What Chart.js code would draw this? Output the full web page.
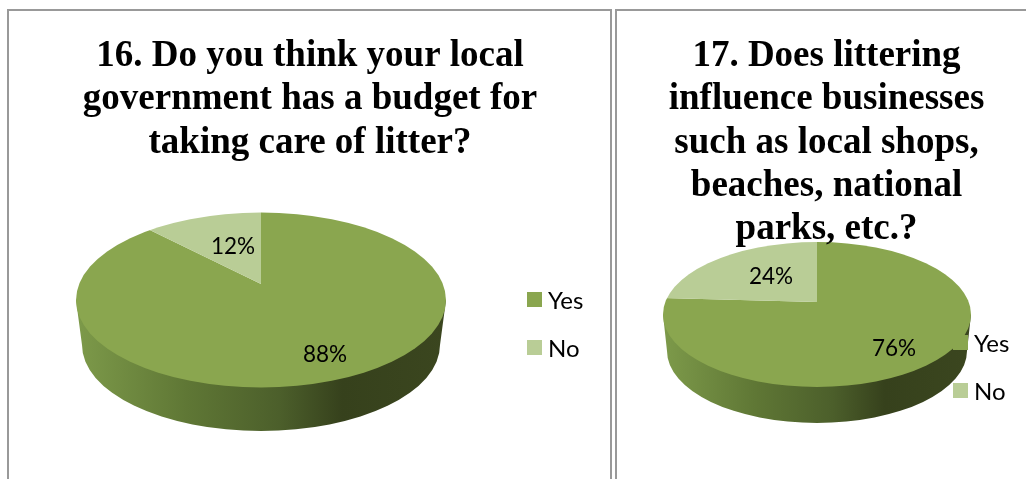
<!DOCTYPE html>
<html>
<head>
<meta charset="utf-8">
<title>Litter survey</title>
<script src="https://cdn.jsdelivr.net/npm/chart.js@4/dist/chart.umd.min.js"></script>
<style>
    html, body { margin: 0; padding: 0; background: #fff; overflow: hidden; }
    .cell { position: absolute; box-sizing: border-box; border: 2px solid #999; border-bottom: 0; }
    #cell16 { left: 7px; top: 9px; width: 605px; height: 470px; }
    #cell17 { left: 615px; top: 9px; width: 411px; height: 470px; border-right: 0; }
    canvas { position: absolute; top: 0; }
    #chart16 { left: 0; }
    #chart17 { left: 613px; }
</style>
</head>
<body>
<div class="cell" id="cell16"></div>
<div class="cell" id="cell17"></div>
<canvas id="chart16" width="620" height="479"></canvas>
<canvas id="chart17" width="427" height="479"></canvas>
<script>
    "use strict";

    var answers = ["Yes", "No"];
    var budgetValues = [88, 12];
    var businessValues = [76, 24];
    var budgetTitle = ["16. Do you think your local", "government has a budget for", "taking care of litter?"];
    var businessTitle = ["17. Does littering", "influence businesses", "such as local shops,", "beaches, national", "parks, etc.?"];

    var sliceColors = ["#8aa64f", "#b9cd96"];
    var valueFont = "22.5px Lato";
    var legendFont = "24px Lato";

    // Tilted pie: the library draws the slices, squashed around the apex and
    // cut to the rim ellipse. The side wall goes underneath.
    var tiltedPie = {
        id: "tiltedPie",
        beforeDatasetsDraw: function (chart, args, opts) {
            var ctx = chart.ctx;
            var arc = chart.getDatasetMeta(0).data[0];
            var k = 500 / arc.outerRadius;

            // Side wall
            var wall = ctx.createLinearGradient(opts.cx - opts.rx, 0, opts.cx + opts.rx, 0);
            wall.addColorStop(0, "#7d9a4a");
            wall.addColorStop(0.3, "#5f7735");
            wall.addColorStop(0.55, "#4c5f2b");
            wall.addColorStop(0.72, "#36411c");
            wall.addColorStop(1, "#3b461f");
            ctx.save();
            ctx.beginPath();
            ctx.moveTo(opts.cx - opts.rx, opts.cy);
            ctx.lineTo(opts.cx - opts.wallRx, opts.wallCy);
            ctx.ellipse(opts.cx, opts.wallCy, opts.wallRx, opts.wallRy, 0, Math.PI, 0, true);
            ctx.lineTo(opts.cx + opts.rx, opts.cy);
            ctx.closePath();
            ctx.fillStyle = wall;
            ctx.fill();
            ctx.restore();

            // Top face
            ctx.save();
            ctx.beginPath();
            ctx.ellipse(opts.cx, opts.cy, opts.rx, opts.ry, 0, 0, Math.PI * 2);
            ctx.clip();
            ctx.translate(opts.apexX, opts.apexY);
            ctx.scale(k, k * opts.squash);
            ctx.translate(-arc.x, -arc.y);
        },
        afterDatasetsDraw: function (chart, args, opts) {
            var ctx = chart.ctx;
            ctx.restore();

            // The title runs in front of the pie where they overlap
            ctx.save();
            ctx.beginPath();
            ctx.ellipse(opts.cx, opts.cy, opts.rx, opts.ry, 0, 0, Math.PI * 2);
            ctx.clip();
            chart.titleBlock.draw();
            ctx.restore();
        },
        afterDraw: function (chart, args, opts) {
            var ctx = chart.ctx;
            var ds = chart.data.datasets[0];
            ctx.save();
            ctx.font = valueFont;
            ctx.fillStyle = "#000";
            ctx.textBaseline = "middle";
            ctx.textAlign = "center";
            ds.data.forEach(function (v, i) {
                ctx.fillText(v + "%", opts.labelX[i], opts.labelY[i]);
            });

            // Legend
            ctx.font = legendFont;
            ctx.textAlign = "left";
            chart.data.labels.forEach(function (name, i) {
                var y = opts.legendY[i];
                ctx.fillStyle = ds.backgroundColor[i];
                ctx.fillRect(opts.legendX, y, 15, 15);
                ctx.fillStyle = "#000";
                ctx.fillText(name, opts.legendX + 21, y + 9);
            });
            ctx.restore();
        },
    };

    function makePie(id, title, values, pie) {
        return new Chart(document.getElementById(id), {
            type: "pie",
            data: {
                labels: answers,
                datasets: [
                    {
                        data: values,
                        backgroundColor: sliceColors,
                        borderWidth: 0,
                        clip: false,
                    },
                ],
            },
            options: {
                responsive: false,
                animation: false,
                events: [],
                plugins: {
                    legend: { display: false },
                    tooltip: { enabled: false },
                    title: {
                        display: true,
                        text: title,
                        color: "#000",
                        font: { family: "'Liberation Serif'", size: 37, weight: "bold", lineHeight: 1.17 },
                        padding: { top: 35, bottom: 0 },
                    },
                    tiltedPie: pie,
                },
            },
            plugins: [tiltedPie],
        });
    }

    makePie("chart16", budgetTitle, budgetValues, {
        cx: 261, cy: 300, rx: 185, ry: 87.5,
        wallCy: 345, wallRx: 179, wallRy: 86,
        apexX: 261, apexY: 284, squash: 0.456,
        labelX: [325, 233], labelY: [355, 247],
        legendX: 527, legendY: [292, 340],
    });

    makePie("chart17", businessTitle, businessValues, {
        cx: 204, cy: 314.5, rx: 154, ry: 72.5,
        wallCy: 351, wallRx: 150, wallRy: 72,
        apexX: 204, apexY: 302, squash: 0.424,
        labelX: [281, 158], labelY: [349, 277],
        legendX: 340, legendY: [335, 383],
    });
</script>
</body>
</html>
